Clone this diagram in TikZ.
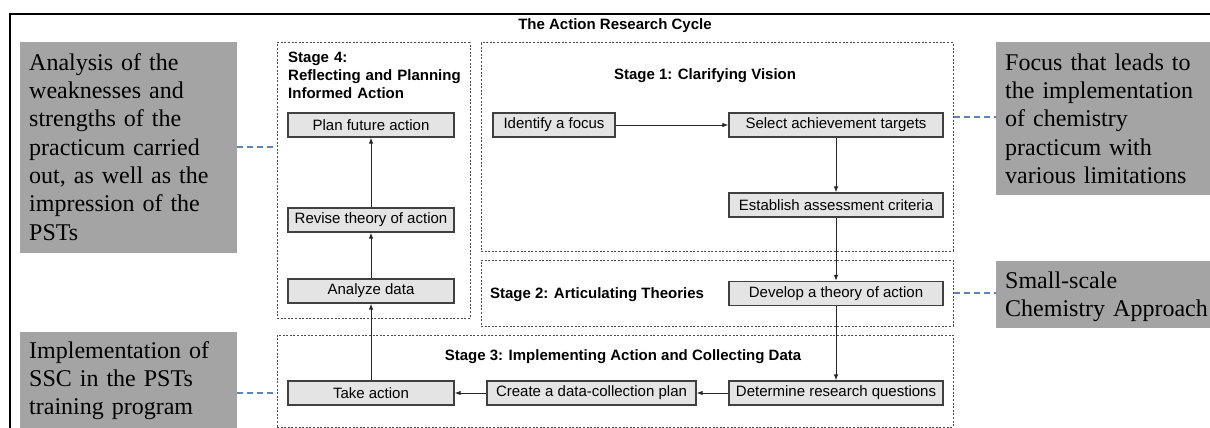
\documentclass[tikz,border=0pt]{standalone}
\usepackage{fontspec}
\setmainfont{Liberation Serif}
\setsansfont{Liberation Sans}
\usetikzlibrary{arrows.meta}

\definecolor{notegray}{HTML}{A4A4A4}
\definecolor{boxgray}{HTML}{E4E4E4}
\definecolor{linkblue}{HTML}{5C86B4}

\begin{document}
\begin{tikzpicture}[x=1pt,y=-1pt,
  step node/.style={rectangle,draw=black!75,fill=boxgray,line width=1.3pt,minimum height=24pt,inner sep=0pt,font=\sffamily\fontsize{15}{18}\selectfont},
  stage node/.style={rectangle,draw=black!70,line width=1pt,dash pattern=on 2pt off 1.6pt,inner sep=0pt},
  note node/.style={rectangle,fill=notegray,anchor=north west,align=left,inner xsep=9pt,inner ysep=0pt,font=\fontsize{24}{28.3}\selectfont},
  label node/.style={inner sep=0pt,font=\sffamily\bfseries\fontsize{15}{18}\selectfont},
  flow/.style={-{Latex[length=6pt,width=4.5pt]},black!85,line width=1pt},
  link/.style={linkblue,line width=1.5pt,dash pattern=on 6pt off 4pt}]

  \clip (0,0) rectangle (1210,428);
  \fill[white] (0,0) rectangle (1210,428);
  \draw[line width=2.8pt] (10,14) rectangle (1240,450);

  \node[label node,anchor=base] at (615,30) (title) {The Action Research Cycle};

  % stage frames
  \node[stage node,minimum width=193pt,minimum height=275pt] at (373.5,180.5) (stage4) {};
  \node[stage node,minimum width=472pt,minimum height=208pt] at (717,147) (stage1) {};
  \node[stage node,minimum width=472pt,minimum height=66pt] at (717,293) (stage2) {};
  \node[stage node,minimum width=676pt,minimum height=92pt] at (615,381) (stage3) {};

  \node[label node,anchor=base west,align=left,text width=185pt] at (288,63) (label4) {Stage 4:\\Reflecting and Planning\\Informed Action};
  \node[label node,anchor=base] at (705,80) (label1) {Stage 1: Clarifying Vision};
  \node[label node,anchor=base] at (597,298) (label2) {Stage 2: Articulating Theories};
  \node[label node,anchor=base] at (623,360) (label3) {Stage 3: Implementing Action and Collecting Data};

  % steps
  \node[step node,minimum width=166pt] at (371,125) (plan) {Plan future action};
  \node[step node,minimum width=166pt] at (371,220) (revise) {Revise theory of action};
  \node[step node,minimum width=166pt] at (371,291) (analyze) {Analyze data};
  \node[step node,minimum width=166pt] at (371,393) (take) {Take action};
  \node[step node,minimum width=122pt] at (554,125) (identify) {Identify a focus};
  \node[step node,minimum width=214pt] at (836,125) (select) {Select achievement targets};
  \node[step node,minimum width=214pt] at (836,205) (establish) {Establish assessment criteria};
  \node[step node,minimum width=214pt] at (836,293.5) (develop) {Develop a theory of action};
  \node[step node,minimum width=214pt] at (836,393) (determine) {Determine research questions};
  \node[step node,minimum width=209pt] at (591.5,393) (create) {Create a data-collection plan};

  % notes
  \node[note node,text width=199pt,text height=28pt,text depth=183pt] at (20,42) (noteA)
    {Analysis of the\\weaknesses and\\strengths of the\\practicum carried\\out, as well as the\\impression of the\\PSTs};
  \node[note node,text width=199pt,text height=26pt,text depth=82pt] at (20,332) (noteD)
    {Implementation of\\SSC in the PSTs\\training program};
  \node[note node,text width=230pt,text height=28pt,text depth=125pt] at (996,42) (noteB)
    {Focus that leads to\\the implementation\\of chemistry\\practicum with\\various limitations};
  \node[note node,text width=230pt,text height=27pt,text depth=40pt] at (996,261) (noteC)
    {Small-scale\\Chemistry Approach};

  \path[flow]
  (identify) edge (select)
  (select) edge (establish)
  (establish) edge (develop)
  (develop) edge (determine)
  (determine) edge (create)
  (create) edge (take)
  (take) edge (analyze)
  (analyze) edge (revise)
  (revise) edge (plan);

  \path[link]
  (noteA.east |- 0,147) edge (stage4.west |- 0,147)
  (noteD.east |- 0,393) edge (stage3.west |- 0,393)
  (stage1.east |- 0,117) edge (noteB.west |- 0,117)
  (stage2.east |- 0,293) edge (noteC.west |- 0,293);
\end{tikzpicture}
\end{document}
